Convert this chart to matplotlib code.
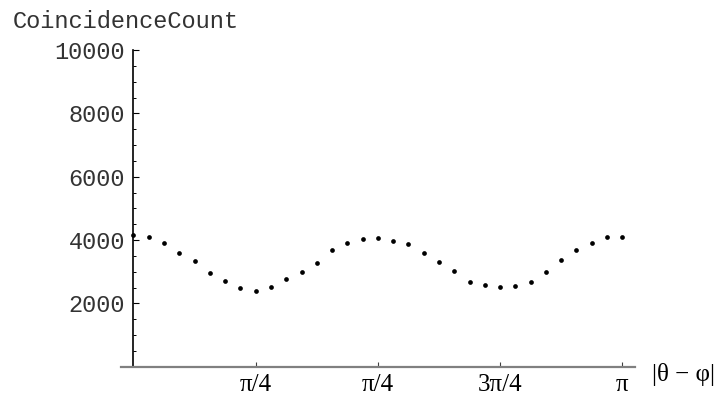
import numpy as np
import matplotlib
matplotlib.use("Agg")
import matplotlib.pyplot as plt
from matplotlib.ticker import MultipleLocator, FixedLocator

# Data: 33 points from 0 to pi (step pi/32)
n_points = 33
angles = np.linspace(0, np.pi, n_points)
counts = [4159, 4086, 3916, 3600, 3328, 2968, 2716, 2485, 2400, 2507, 2760,
          2981, 3275, 3685, 3906, 4042, 4074, 3960, 3865, 3581, 3316, 3032,
          2678, 2580, 2507, 2539, 2675, 2981, 3360, 3685, 3906, 4105, 4105]

xtick_pos = [np.pi / 4, np.pi / 2, 3 * np.pi / 4, np.pi]
xtick_labels = ["π/4", "π/4", "3π/4", "π"]
ytick_pos = [2000, 4000, 6000, 8000, 10000]
ytick_labels = ["2000", "4000", "6000", "8000", "10000"]

fig = plt.figure(figsize=(7.17, 3.95), dpi=100)
ax = fig.add_axes([121 / 717, (395 - 366.7) / 395, (635 - 121) / 717, (366.7 - 50) / 395])

ax.plot(angles, counts, linestyle="none", marker="o", markersize=3.4,
        color="black", markeredgewidth=0)

ax.set_xlim(-0.080, 3.223)
ax.set_ylim(0, 10000)

for s in ["top", "right"]:
    ax.spines[s].set_visible(False)
ax.spines["left"].set_position(("data", 0))
ax.spines["left"].set_color("black")
ax.spines["left"].set_linewidth(1.2)
ax.spines["bottom"].set_color("#808080")
ax.spines["bottom"].set_linewidth(1.6)

ax.xaxis.set_major_locator(FixedLocator(xtick_pos))
ax.set_xticklabels(xtick_labels, fontfamily="Liberation Serif", fontsize=18)
ax.yaxis.set_major_locator(FixedLocator(ytick_pos))
ax.set_yticklabels(ytick_labels, fontfamily="Liberation Mono", fontsize=17)
ax.yaxis.set_minor_locator(MultipleLocator(500))

ax.tick_params(axis="x", which="major", direction="in", length=3.5, width=0.8,
               color="#404040", pad=5, labelcolor="black")
ax.tick_params(axis="y", which="major", direction="in", length=4, width=0.8,
               color="black", pad=6, labelcolor="#333333")
ax.tick_params(axis="y", which="minor", direction="in", length=2.5, width=0.7,
               color="black")

fig.text(13 / 717, 1 - 21 / 395, "CoincidenceCount", fontfamily="Liberation Mono",
         fontsize=17, ha="left", va="center", color="#333333")
fig.text(652 / 717, 1 - 375 / 395, "|θ − φ|", fontfamily="Liberation Serif",
         fontsize=18, ha="left", va="center", color="black")

fig.savefig("out.png", dpi=100)
